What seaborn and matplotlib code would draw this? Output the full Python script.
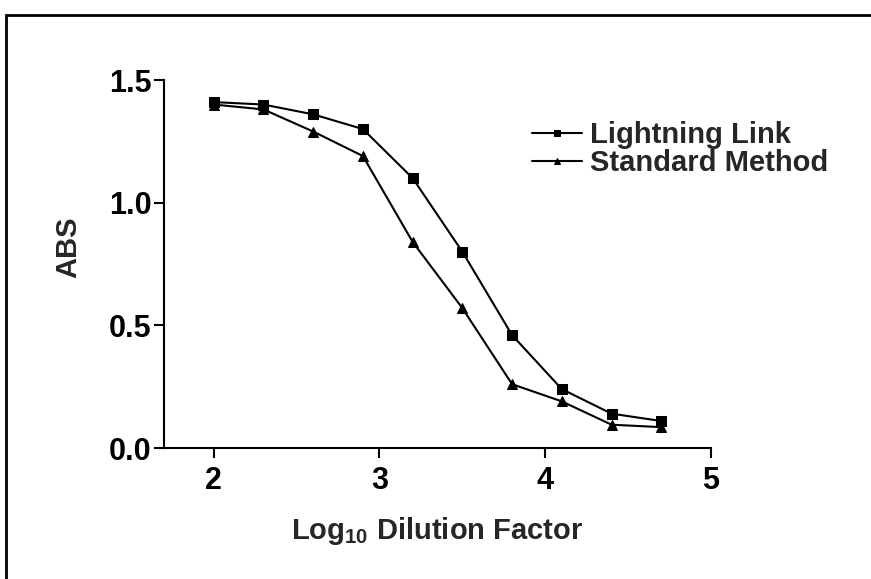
import pandas as pd
import matplotlib.pyplot as plt
import seaborn as sns
from matplotlib.patches import Rectangle

# log10 dilution factor and absorbance readings
dilution = [2.0, 2.3, 2.6, 2.9, 3.2, 3.5, 3.8, 4.1, 4.4, 4.7]
lightning_link = [1.41, 1.40, 1.36, 1.30, 1.10, 0.80, 0.46, 0.24, 0.14, 0.11]
standard_method = [1.40, 1.38, 1.29, 1.19, 0.84, 0.57, 0.26, 0.19, 0.095, 0.085]
series_names = ["Lightning Link", "Standard Method"]

df = pd.DataFrame({
    "x": dilution * 2,
    "y": lightning_link + standard_method,
    "Method": [series_names[0]] * len(dilution) + [series_names[1]] * len(dilution),
})

sns.set_style("ticks")
plt.rcParams["font.family"] = ["Liberation Sans", "DejaVu Sans"]
plt.rcParams["font.weight"] = "bold"
plt.rcParams["mathtext.default"] = "regular"

fig = plt.figure(figsize=(8.71, 5.79), dpi=100)
ax = fig.add_axes([164 / 871, 1 - 448 / 579, 547 / 871, 368 / 579])

sns.lineplot(data=df, x="x", y="y", hue="Method", style="Method",
             markers={"Lightning Link": "s", "Standard Method": "^"},
             dashes=False, palette=["black", "black"], linewidth=1.5,
             markersize=7, markeredgecolor="black", ax=ax)

ax.set_xlim(1.7, 5)
ax.set_ylim(0, 1.5)
ax.set_xticks([2, 3, 4, 5])
ax.set_yticks([0.0, 0.5, 1.0, 1.5])
ax.set_yticklabels(["0.0", "0.5", "1.0", "1.5"])
sns.despine(ax=ax)
for s in ["left", "bottom"]:
    ax.spines[s].set_linewidth(1.5)
    ax.spines[s].set_color("black")
ax.tick_params(axis="both", direction="out", length=7, width=1.5,
               labelsize=22, colors="black")
ax.tick_params(axis="y", pad=2)
ax.tick_params(axis="x", pad=6)
for lbl in ax.get_xticklabels() + ax.get_yticklabels():
    lbl.set_fontweight("bold")

ax.set_xlabel("Log$_{10}$ Dilution Factor", fontsize=21, fontweight="bold")
ax.set_ylabel("ABS", fontsize=21, fontweight="bold")
ax.yaxis.set_label_coords(-0.15, 0.546)
ax.xaxis.set_label_coords(0.5, -0.182)

ax.legend(frameon=False, loc="upper left", bbox_to_anchor=(532 / 871, 1 - 121 / 579),
          bbox_transform=fig.transFigure, borderpad=0, borderaxespad=0,
          handlelength=1.7, handletextpad=0.28, labelspacing=0.0,
          markerscale=0.6, prop={"size": 21, "weight": "bold"})

# outer frame (cut off at right and bottom)
fig.patches.append(Rectangle((6 / 871, -0.1), 1.2, 1.1 - 15 / 579,
                             transform=fig.transFigure, fill=False,
                             edgecolor="black", linewidth=2, clip_on=False))

fig.savefig("out.png", dpi=100)
